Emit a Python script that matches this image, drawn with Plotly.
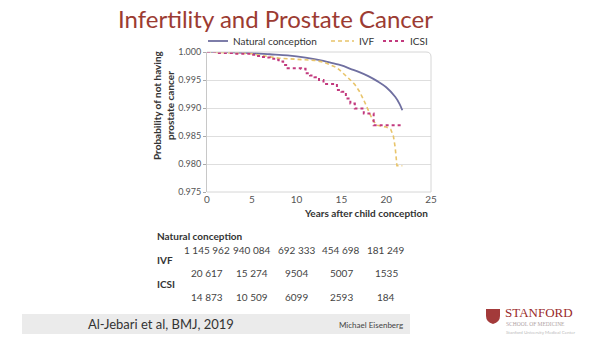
import plotly.graph_objects as go

# ---- data ----
nat_x = [0, 2, 5, 7, 9, 11, 13, 14, 15, 16, 17, 18, 19, 20, 21, 21.5, 21.8]
nat_y = [1.0, 0.99998, 0.9998, 0.9996, 0.9994, 0.9990, 0.9984, 0.9980, 0.9976, 0.9970,
         0.9964, 0.9957, 0.9948, 0.9937, 0.9920, 0.9907, 0.9896]

ivf_x = [0, 2, 4, 5, 6, 7, 8, 10, 12, 13, 13.5, 14.5, 15, 15.5, 16, 16.5, 17, 17.5, 18,
         18.5, 19, 20, 20.5, 20.8, 21, 21.2, 21.8]
ivf_y = [1.0, 0.9999, 0.9998, 0.9997, 0.9994, 0.9991, 0.9989, 0.9987, 0.9985, 0.9982,
         0.9979, 0.9972, 0.9965, 0.9958, 0.9950, 0.9942, 0.9930, 0.9914, 0.9896,
         0.9878, 0.9869, 0.9866, 0.9862, 0.9850, 0.9830, 0.9797, 0.9797]

icsi_x = [0, 1, 3, 5, 5.5, 6, 6.5, 7, 7.5, 8, 8.5, 9, 10.5, 11, 11.5, 12, 12.5, 13, 14,
          14.5, 15, 15.5, 16, 16.5, 17, 17.5, 18.5, 18.6, 21.8]
icsi_y = [1.0, 0.9998, 0.9997, 0.9995, 0.9993, 0.9991, 0.9990, 0.9988, 0.9986, 0.9983,
          0.9977, 0.9971, 0.9970, 0.9962, 0.9958, 0.9955, 0.9950, 0.9943, 0.9943,
          0.9932, 0.9929, 0.9917, 0.9908, 0.9899, 0.9899, 0.9890, 0.9890, 0.9869, 0.9869]

risk_years = [0, 5, 10, 15, 20]
risk_natural = ["1 145 962", "940 084", "692 333", "454 698", "181 249"]
risk_ivf = ["20 617", "15 274", "9504", "5007", "1535"]
risk_icsi = ["14 873", "10 509", "6099", "2593", "184"]

x_ticks = [0, 5, 10, 15, 20, 25]
y_ticks = [0.975, 0.980, 0.985, 0.990, 0.995, 1.000]

series_names = ["Natural conception", "IVF", "ICSI"]
series_colors = ["#6f6fa0", "#e8c46a", "#c2397d"]
series_dash = ["solid", "4px,3px", "dot"]
series_width = [1.8, 1.6, 2.0]

FONT = "Lato"
L, R, T, B = 207, 431, 52, 192
PW, PH = R - L, B - T


def px(xp):
    return (xp - L) / PW


def py(yp):
    return (B - yp) / PH


fig = go.Figure()
fig.add_trace(go.Scatter(x=nat_x, y=nat_y, mode="lines", name=series_names[0],
                         line=dict(color=series_colors[0], width=series_width[0],
                                   shape="spline")))
fig.add_trace(go.Scatter(x=ivf_x, y=ivf_y, mode="lines", name=series_names[1],
                         line=dict(color=series_colors[1], width=series_width[1],
                                   dash=series_dash[1])))
fig.add_trace(go.Scatter(x=icsi_x, y=icsi_y, mode="lines", name=series_names[2],
                         line=dict(color=series_colors[2], width=series_width[2],
                                   dash=series_dash[2], shape="hv")))

annotations = []
rows = [("Natural conception", risk_natural, 236, 250),
        ("IVF", risk_ivf, 260, 273),
        ("ICSI", risk_icsi, 284, 297)]
for label, vals, ly, ny in rows:
    annotations.append(dict(text="<b>%s</b>" % label, xref="paper", yref="paper",
                            x=px(155), y=py(ly), showarrow=False,
                            xanchor="left", yanchor="middle",
                            font=dict(size=10, color="#333", family=FONT)))
    for yr, v in zip(risk_years, vals):
        annotations.append(dict(text=v, xref="x", yref="paper", x=yr,
                                y=py(ny), showarrow=False,
                                xanchor="center", yanchor="middle",
                                font=dict(size=10, color="#444", family=FONT)))

# manual legend
legend_pos = [(208, 228, 231), (331, 354, 357), (383, 405, 408)]
shapes = []
for (x0, x1, tx), name, col, dsh, w in zip(legend_pos, series_names, series_colors,
                                           series_dash, series_width):
    shapes.append(dict(type="line", xref="paper", yref="paper", x0=px(x0), x1=px(x1),
                       y0=py(41), y1=py(41), line=dict(color=col, width=w, dash=dsh)))
    annotations.append(dict(text=name, xref="paper", yref="paper", x=px(tx), y=py(41),
                            showarrow=False, xanchor="left", yanchor="middle",
                            font=dict(size=10, color="#333", family=FONT)))

annotations += [
    dict(text="Infertility and Prostate Cancer", xref="paper", yref="paper",
         x=px(275), y=py(19), showarrow=False,
         xanchor="center", yanchor="middle",
         font=dict(size=24, color="#9c3b32", family=FONT)),
    dict(text="<b>Years after child conception</b>", xref="paper", yref="paper",
         x=px(430), y=py(213), showarrow=False, xanchor="right", yanchor="middle",
         font=dict(size=10, color="#333", family=FONT)),
    dict(text="<b>Probability of not having<br>prostate cancer</b>", xref="paper",
         yref="paper", x=px(163), y=py(105), showarrow=False,
         textangle=-90, xanchor="center", yanchor="middle",
         font=dict(size=10, color="#333", family=FONT)),
    dict(text="Al-Jebari et al, BMJ, 2019", xref="paper", yref="paper",
         x=px(86), y=py(324), showarrow=False,
         xanchor="left", yanchor="middle",
         font=dict(size=13, color="#333", family=FONT)),
    dict(text="Michael Eisenberg", xref="paper", yref="paper",
         x=px(405), y=py(325), showarrow=False,
         xanchor="right", yanchor="middle",
         font=dict(size=8, color="#444", family=FONT)),
    dict(text="STANFORD", xref="paper", yref="paper",
         x=px(503), y=py(312), showarrow=False,
         xanchor="left", yanchor="middle",
         font=dict(size=13, color="#9a2a2a", family="Liberation Serif")),
    dict(text="SCHOOL OF MEDICINE", xref="paper", yref="paper",
         x=px(504), y=py(324), showarrow=False,
         xanchor="left", yanchor="middle",
         font=dict(size=5.5, color="#b0a4a4", family="Liberation Serif")),
    dict(text="Stanford University Medical Center", xref="paper", yref="paper",
         x=px(504), y=py(332), showarrow=False,
         xanchor="left", yanchor="middle",
         font=dict(size=4.5, color="#bbb", family=FONT)),
]

shapes += [
    # plot frame
    dict(type="path", xref="paper", yref="paper",
         path="M %f %f L %f %f L %f %f Q %f %f %f %f L %f %f" % (
             0, 0, 1, 0, 1, py(57), 1, py(52), px(426), py(52), 0, py(52)),
         line=dict(color="#d6d6d6", width=1)),
    # footer bar
    dict(type="rect", xref="paper", yref="paper", x0=px(22), x1=px(410),
         y0=py(334), y1=py(314), fillcolor="#ebebeb", line=dict(width=0), layer="below"),
    # Stanford shield
    dict(type="path", xref="paper", yref="paper",
         path="M %f %f L %f %f L %f %f Q %f %f %f %f Q %f %f %f %f Z" % (
             px(486), py(309), px(500), py(309), px(500), py(316),
             px(500), py(322), px(493), py(324), px(486), py(322), px(486), py(316)),
         fillcolor="#a33a3a", line=dict(width=0)),
]

fig.update_layout(
    width=600, height=338,
    margin=dict(l=L, r=600 - R, t=T, b=338 - B),
    paper_bgcolor="white", plot_bgcolor="white",
    showlegend=False,
    xaxis=dict(range=[0, 25], tickvals=x_ticks, ticktext=[str(t) for t in x_ticks],
               showgrid=False, zeroline=False, showline=False,
               tickfont=dict(size=10, color="#555", family=FONT), ticks=""),
    yaxis=dict(range=[0.975, 1.0], tickvals=y_ticks,
               ticktext=["%.3f" % t for t in y_ticks],
               showgrid=True, gridcolor="#dedede", gridwidth=1, zeroline=False,
               showline=True, linecolor="#c8c8c8",
               ticks="outside", ticklen=3, tickcolor="#aaa",
               tickfont=dict(size=9, color="#555", family=FONT)),
    annotations=annotations,
    shapes=shapes,
)

fig.write_html("out.html")
